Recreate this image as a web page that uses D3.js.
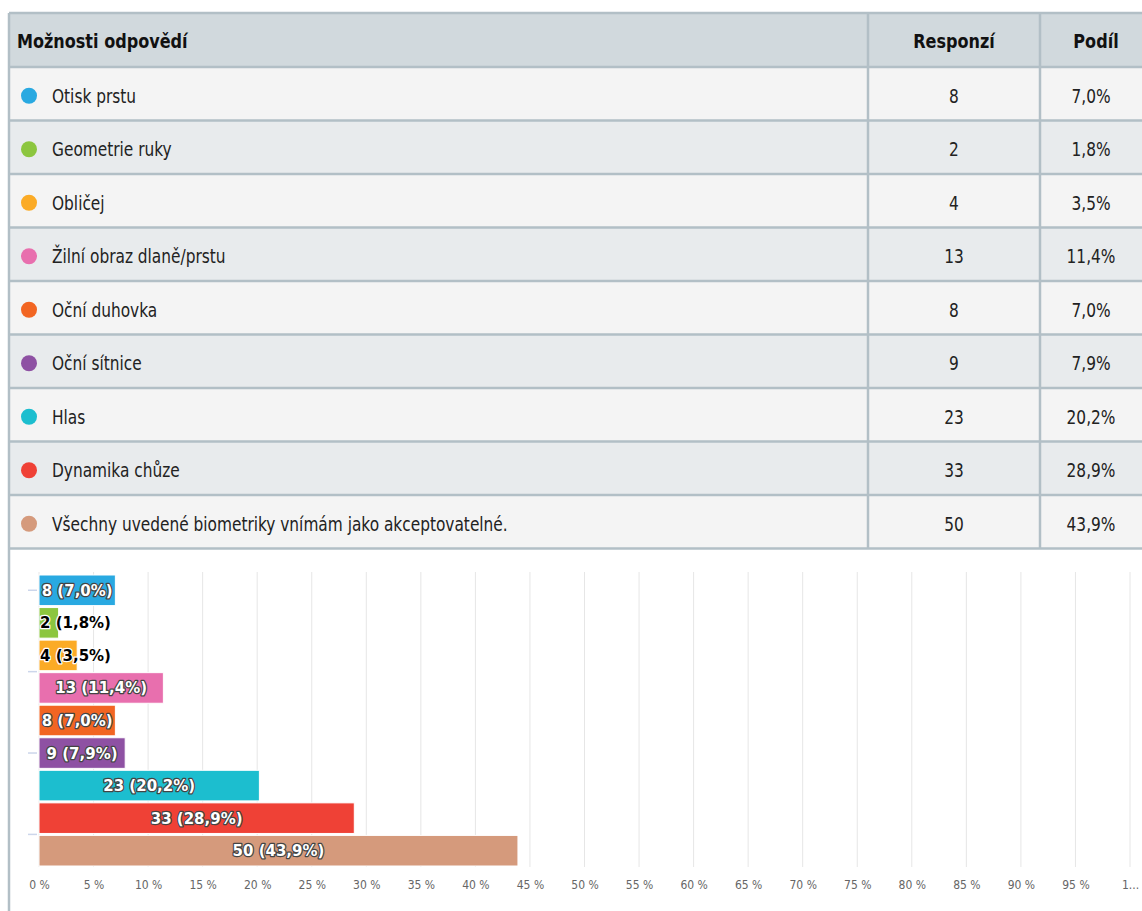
<!DOCTYPE html>
<html>
<head>
<meta charset="utf-8">
<script src="https://cdn.jsdelivr.net/npm/d3@7"></script>
<style>
  body { margin: 0; background: #fff; }
  .cond { font-family: "DejaVu Sans Condensed", "DejaVu Sans", sans-serif; }
  .lbl { font-family: "DejaVu Sans", sans-serif; font-weight: bold; font-size: 15px; }
  .tick text { font-family: "DejaVu Sans Condensed", "DejaVu Sans", sans-serif; }
</style>
</head>
<body>
<svg id="chart"></svg>
<script>
// data
const options = ['Otisk prstu', 'Geometrie ruky', 'Obličej', 'Žilní obraz dlaně/prstu', 'Oční duhovka',
  'Oční sítnice', 'Hlas', 'Dynamika chůze', 'Všechny uvedené biometriky vnímám jako akceptovatelné.'];
const responses = [8, 2, 4, 13, 8, 9, 23, 33, 50];
const shares = [7.0, 1.8, 3.5, 11.4, 7.0, 7.9, 20.2, 28.9, 43.9];
const colors = ['#29a9e1', '#8cc63f', '#fbab26', '#e86fae', '#f26522', '#8e51a3', '#1cbecf', '#ef4136', '#d59a7c'];
const headers = ['Možnosti odpovědí', 'Responzí', 'Podíl'];
const xTicks = d3.range(0, 101, 5);

const width = 1142, height = 911;
const fmt = v => v.toFixed(1).replace('.', ',');
const squeeze = 0.9; // the original font is narrower than DejaVu Condensed

const rows = options.map((o, i) => ({ name: o, n: responses[i], p: shares[i], c: colors[i] }));

const svg = d3.select('#chart').attr('width', width).attr('height', height);

// ---- table ----
const tLeft = 9, tTop = 13, headH = 54, rowH = 53.5;
const colX = [tLeft, 868, 1040, width + 2];
const border = '#b2bfc6';

svg.append('rect')
  .attr('x', tLeft).attr('y', tTop)
  .attr('width', width - tLeft + 2).attr('height', headH)
  .attr('fill', '#d1d9dd');

const row = svg.selectAll('g.row')
  .data(rows)
  .enter()
  .append('g')
  .attr('class', 'row')
  .attr('transform', (d, i) => 'translate(0,' + (tTop + headH + i * rowH) + ')');

row.append('rect')
  .attr('x', tLeft).attr('width', width - tLeft + 2).attr('height', rowH)
  .attr('fill', (d, i) => i % 2 == 0 ? '#f4f4f4' : '#e8ebed');

row.append('circle')
  .attr('cx', 29).attr('cy', rowH / 2 + 2).attr('r', 8)
  .attr('fill', d => d.c);

row.append('text')
  .attr('class', 'cond')
  .attr('transform', 'translate(52,' + (rowH / 2 + 9) + ') scale(' + squeeze + ',1)')
  .attr('font-size', '19px').attr('fill', '#222')
  .text(d => d.name);

row.append('text')
  .attr('class', 'cond')
  .attr('transform', 'translate(' + (colX[1] + colX[2]) / 2 + ',' + (rowH / 2 + 9) + ') scale(' + squeeze + ',1)')
  .attr('text-anchor', 'middle')
  .attr('font-size', '19px').attr('fill', '#222')
  .text(d => d.n);

row.append('text')
  .attr('class', 'cond')
  .attr('transform', 'translate(' + ((colX[2] + 1142) / 2) + ',' + (rowH / 2 + 9) + ') scale(' + squeeze + ',1)')
  .attr('text-anchor', 'middle')
  .attr('font-size', '19px').attr('fill', '#222')
  .text(d => fmt(d.p) + '%');

// header texts
svg.selectAll('text.head')
  .data(headers)
  .enter()
  .append('text')
  .attr('class', 'cond head')
  .attr('transform', (d, i) => {
    const hx = i == 0 ? 17 : (i == 1 ? (colX[1] + colX[2]) / 2 : (colX[2] + 1142) / 2 + 5);
    return 'translate(' + hx + ',' + (tTop + headH / 2 + 8) + ') scale(0.94,1)';
  })
  .attr('text-anchor', (d, i) => i == 0 ? 'start' : 'middle')
  .attr('font-size', '19px').attr('font-weight', 'bold').attr('fill', '#111')
  .text(d => d);

const tableBottom = tTop + headH + rows.length * rowH;

// horizontal borders
svg.selectAll('line.hb')
  .data(d3.range(rows.length + 2))
  .enter()
  .append('line')
  .attr('x1', tLeft).attr('x2', width)
  .attr('y1', i => tTop + (i == 0 ? 0 : headH + (i - 1) * rowH))
  .attr('y2', i => tTop + (i == 0 ? 0 : headH + (i - 1) * rowH))
  .attr('stroke', border).attr('stroke-width', 2.5);

// vertical borders
svg.selectAll('line.vb')
  .data(colX.slice(1, 3))
  .enter()
  .append('line')
  .attr('x1', d => d).attr('x2', d => d)
  .attr('y1', tTop).attr('y2', tableBottom)
  .attr('stroke', border).attr('stroke-width', 2.5);

// left border running to the bottom
svg.append('line')
  .attr('x1', tLeft).attr('x2', tLeft)
  .attr('y1', tTop).attr('y2', height)
  .attr('stroke', border).attr('stroke-width', 2.5);

// ---- bar chart ----
const x = d3.scaleLinear().domain([0, 100]).range([39, 1130]);
const y = d3.scaleBand().domain(d3.range(rows.length)).range([575, 866]).paddingInner(0.06);
const plotTop = 572, plotBottom = 867;

svg.append('g')
  .selectAll('line')
  .data(xTicks)
  .enter()
  .append('line')
  .attr('x1', d => x(d)).attr('x2', d => x(d))
  .attr('y1', plotTop).attr('y2', plotBottom)
  .attr('stroke', '#e6e6e6').attr('stroke-width', 1);

const xAxis = svg.append('g')
  .attr('transform', 'translate(0,' + plotBottom + ')')
  .call(d3.axisBottom(x).tickValues(xTicks).tickSize(0).tickPadding(13)
    .tickFormat(d => d == 100 ? '1...' : d + ' %'));
xAxis.select('.domain').remove();
xAxis.selectAll('text').attr('fill', '#666').attr('font-size', '12px');

// small y-axis ticks on the left (in band steps)
svg.selectAll('line.yt')
  .data([0.5, 3, 5.5, 8])
  .enter()
  .append('line')
  .attr('x1', 28).attr('x2', 37)
  .attr('y1', d => y(0) + d * y.step() - 1)
  .attr('y2', d => y(0) + d * y.step() - 1)
  .attr('stroke', '#ccd6eb').attr('stroke-width', 1.5);

const bar = svg.selectAll('g.bar')
  .data(rows)
  .enter()
  .append('g')
  .attr('class', 'bar')
  .attr('transform', (d, i) => 'translate(0,' + y(i) + ')');

bar.append('rect')
  .attr('x', x(0))
  .attr('width', d => x(d.p) - x(0))
  .attr('height', y.bandwidth())
  .attr('fill', d => d.c)
  .attr('stroke', '#fff').attr('stroke-width', 1);

bar.append('text')
  .attr('class', 'lbl')
  .attr('x', d => d.p < 5 ? x(0) + 1 : (x(0) + x(d.p)) / 2)
  .attr('y', y.bandwidth() / 2 + 5.5)
  .attr('text-anchor', d => d.p < 5 ? 'start' : 'middle')
  .attr('fill', d => d.p < 5 ? '#000' : '#fff')
  .attr('stroke', d => d.p < 5 ? '#fff' : '#444')
  .attr('stroke-width', 2.5)
  .attr('stroke-linejoin', 'round')
  .attr('paint-order', 'stroke')
  .text(d => d.n + ' (' + fmt(d.p) + '%)');
</script>
</body>
</html>
